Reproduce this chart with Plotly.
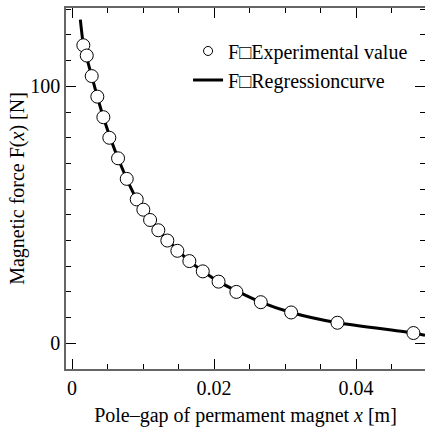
import plotly.graph_objects as go

exp_x = [0.00159, 0.00207, 0.00277, 0.00356, 0.00441, 0.00525, 0.00648, 0.0077,
         0.00911, 0.01004, 0.01099, 0.01215, 0.01342, 0.01483, 0.01652, 0.01841,
         0.02063, 0.02314, 0.02658, 0.03085, 0.03737, 0.04807]
exp_f = [116, 112, 104, 96, 88, 80, 72, 64,
         56, 52, 48, 44, 40, 36, 32, 28,
         24, 20, 16, 12, 8, 4]

# Regression curve
reg_x = [0.00117, 0.00159, 0.00277, 0.00441, 0.00648, 0.00911, 0.01215, 0.01652,
         0.02063, 0.02658, 0.03085, 0.03737, 0.04807, 0.0497]
reg_f = [126, 116.5, 104, 88, 72, 56, 44, 32,
         24, 16, 12, 8, 4, 3.1]

x_ticks = [0, 0.02, 0.04]
y_ticks = [0, 100]

font_family = "Liberation Serif, Times New Roman, serif"
fs = 20

fig = go.Figure()
fig.add_trace(go.Scatter(
    x=reg_x, y=reg_f, mode="lines", name="F\u25a1Regressioncurve",
    line=dict(color="black", width=3, shape="spline", smoothing=0.6),
    legendrank=2,
))
fig.add_trace(go.Scatter(
    x=exp_x, y=exp_f, mode="markers", showlegend=False,
    marker=dict(symbol="circle", size=13, color="white",
                line=dict(color="black", width=1)),
))
fig.add_trace(go.Scatter(
    x=[None], y=[None], mode="markers", name="F\u25a1Experimental value",
    marker=dict(symbol="circle", size=9, color="white",
                line=dict(color="black", width=1)),
    legendrank=1,
))

axis_common = dict(
    showgrid=False, zeroline=False, automargin=False,
    showline=True, linecolor="#666", linewidth=1.5, mirror="ticks",
    ticks="inside", ticklen=10, tickwidth=1, tickcolor="black",
    tickfont=dict(family=font_family, size=fs, color="black"),
)

fig.update_xaxes(
    range=[-0.00085, 0.0497], tickvals=x_ticks, ticktext=["0", "0.02", "0.04"],
    minor=dict(ticks="inside", ticklen=5, dtick=0.005, tick0=0, tickcolor="black"),
    title=dict(text="Pole\u2013gap of permament magnet <i>x</i> [m]",
               font=dict(family=font_family, size=fs, color="black"), standoff=10),
    **axis_common,
)
fig.update_yaxes(
    range=[-10, 130.5], tickvals=y_ticks,
    minor=dict(ticks="inside", ticklen=5, dtick=10, tick0=0, tickcolor="black"),
    title=dict(text="Magnetic force F(<i>x</i>) [N]",
               font=dict(family=font_family, size=fs, color="black"), standoff=0),
    **axis_common,
)

fig.update_layout(
    width=425, height=428,
    margin=dict(l=66, r=0, t=8, b=59),
    paper_bgcolor="white", plot_bgcolor="white",
    font=dict(family=font_family, size=fs, color="black"),
    legend=dict(x=0.34, y=0.935, xanchor="left", yanchor="top",
                bgcolor="rgba(0,0,0,0)", tracegroupgap=0,
                font=dict(family=font_family, size=fs, color="black")),
)

fig.write_html("out.html", config={"displayModeBar": False},
               post_script="document.body.style.margin='0px';document.body.style.overflow='hidden';")
